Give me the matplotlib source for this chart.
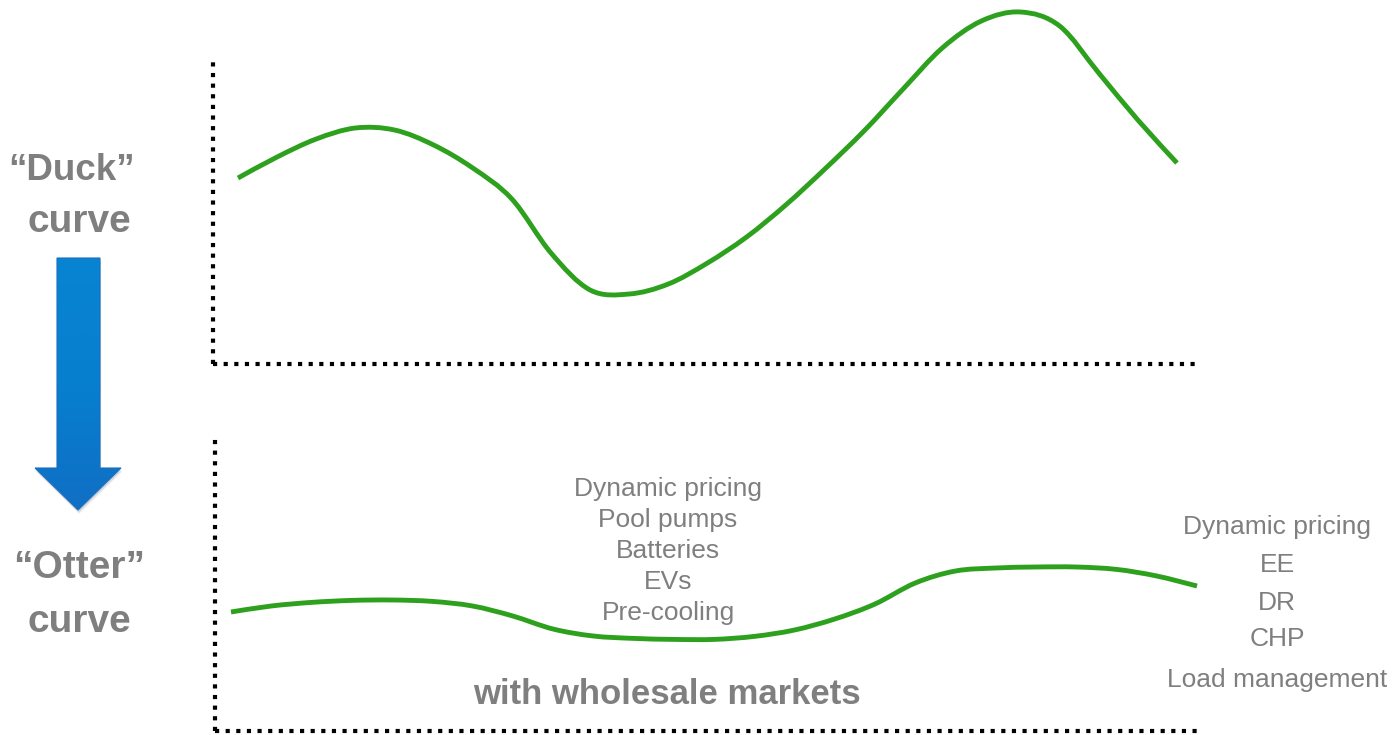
import numpy as np
import matplotlib
matplotlib.use('Agg')
from matplotlib import pyplot as plt
from matplotlib.path import Path
from matplotlib.patches import PathPatch, Polygon
from matplotlib.colors import LinearSegmentedColormap

W, H = 1394, 735

# Net load (GW) by hour of day
hours = list(range(25))
duckLoad = [19.30, 20.35, 21.25, 21.80, 21.70, 20.95, 19.80, 18.25, 15.55, 13.70,
            13.50, 14.00, 15.05, 16.35, 17.95, 19.75, 21.65, 23.75, 25.80, 27.15,
            27.60, 26.90, 24.55, 22.20, 20.05]
otterLoad = [15.95, 16.25, 16.43, 16.53, 16.55, 16.48, 16.25, 15.75, 15.10, 14.75,
             14.63, 14.58, 14.58, 14.73, 15.05, 15.60, 16.35, 17.40, 18.00, 18.15,
             18.20, 18.20, 18.08, 17.75, 17.25]

leftLabels = ['\u201cDuck\u201d', 'curve', '\u201cOtter\u201d', 'curve']
middleLabels = ['Dynamic pricing', 'Pool pumps', 'Batteries', 'EVs', 'Pre-cooling']
rightLabels = ['Dynamic pricing', 'EE', 'DR', 'CHP', 'Load management']
bottomLabel = 'with wholesale markets'

GREEN = '#2DA11E'
GREY = '#7f7f7f'
plt.rcParams['font.family'] = ['Liberation Sans', 'DejaVu Sans']


def px(x, y):
    return x / W, 1 - y / H


def smoothCurve(ax, x, y):
    # Catmull-Rom spline through the points, drawn as cubic bezier path
    pts = np.column_stack([x, y]).astype(float)
    ext = np.vstack([pts[0], pts, pts[-1]])
    verts = [pts[0]]
    codes = [Path.MOVETO]
    for i in range(1, len(ext) - 2):
        p0, p1, p2, p3 = ext[i - 1], ext[i], ext[i + 1], ext[i + 2]
        verts += [p1 + (p2 - p0) / 6, p2 - (p3 - p1) / 6, p2]
        codes += [Path.CURVE4] * 3
    patch = PathPatch(Path(verts, codes), fill=False, edgecolor=GREEN, linewidth=3.5,
                      capstyle='butt', clip_on=False, transform=ax.transData)
    ax.add_patch(patch)


def dottedAxes(ax):
    ax.spines['top'].set_visible(False)
    ax.spines['right'].set_visible(False)
    for side in ['left', 'bottom']:
        ax.spines[side].set_linestyle((0, (1, 1.55)))
        ax.spines[side].set_linewidth(3)
        ax.spines[side].set_capstyle('butt')
        ax.spines[side].set_color('black')
    ax.set_xticks([])
    ax.set_yticks([])
    ax.patch.set_alpha(0)


fig = plt.figure(figsize=(W / 100, H / 100), dpi=100)

# Top panel: duck curve
axTop = fig.add_axes([213 / W, 1 - 364 / H, (1200 - 213) / W, (364 - 62) / H])
dottedAxes(axTop)
axTop.set_xlim(-25 / 39.125, 24 + 23 / 39.125)
axTop.set_ylim(10, 25.1)
smoothCurve(axTop, hours, duckLoad)

# Bottom panel: otter curve
axBot = fig.add_axes([215 / W, 1 - 731 / H, (1200 - 215) / W, (731 - 435) / H])
dottedAxes(axBot)
axBot.set_xlim(-16 / 40.25, 24 + 3 / 40.25)
axBot.set_ylim(10, 24.8)
smoothCurve(axBot, hours, otterLoad)

# Left titles
for label, x, y, size in zip(leftLabels, [72, 79, 79, 79], [170, 222, 568, 622],
                             [26.5, 28, 28, 28]):
    fig.text(*px(x, y), label, ha='center', va='center', fontsize=size,
             fontweight='bold', color=GREY)

# Blue arrow with vertical gradient
arrowAx = fig.add_axes([0, 0, 1, 1])
arrowAx.set_xlim(0, W)
arrowAx.set_ylim(H, 0)
arrowAx.axis('off')
arrowAx.patch.set_alpha(0)
outline = [(57, 258), (100, 258), (100, 468), (121, 468), (78, 510), (35, 468), (57, 468)]
for off, a in [(4, 0.08), (3, 0.12), (2, 0.15)]:
    arrowAx.add_patch(Polygon([(x + off * 0.3, y + off) for x, y in outline], closed=True,
                              facecolor='#5a6a80', edgecolor='none', alpha=a, zorder=1))
grad = np.linspace(0, 1, 256).reshape(-1, 1)
cmap = LinearSegmentedColormap.from_list('b', ['#0784d2', '#077fcf', '#106fc5'])
img = arrowAx.imshow(grad, cmap=cmap, extent=[35, 121, 510, 258], aspect='auto', zorder=2)
arrow = Polygon(outline, closed=True, facecolor='none', edgecolor='#1a6fbe',
                linewidth=0.8, zorder=3)
arrowAx.add_patch(arrow)
img.set_clip_path(arrow)

# Middle lever list
for i, label in enumerate(middleLabels):
    fig.text(*px(668, 489 + i * 31), label, ha='center', va='center',
             fontsize=19, color=GREY)

# Right lever list
for label, y in zip(rightLabels, [527, 565, 603, 639, 680]):
    fig.text(*px(1277, y), label, ha='center', va='center', fontsize=19, color=GREY)

fig.text(*px(667, 694), bottomLabel, ha='center', va='center', fontsize=25,
         fontweight='bold', color=GREY)

fig.savefig('out.png', dpi=100, facecolor='white')
plt.close(fig)
